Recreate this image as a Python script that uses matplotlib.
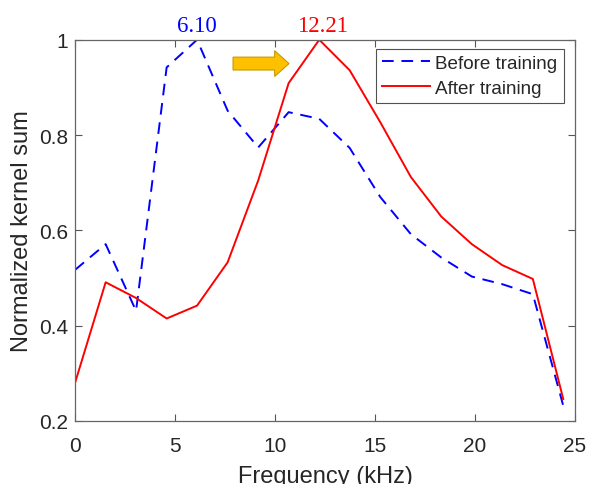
import matplotlib
matplotlib.use("Agg")
import matplotlib.pyplot as plt
from matplotlib.patches import FancyArrow

# frequency bins (kHz) and normalized kernel sums
freq = [0.00, 1.53, 3.05, 4.58, 6.10, 7.63, 9.16, 10.68, 12.21,
        13.73, 15.26, 16.79, 18.31, 19.84, 21.36, 22.89, 24.41]
before = [0.517, 0.571, 0.431, 0.942, 1.000, 0.851, 0.774, 0.848, 0.834,
          0.773, 0.670, 0.592, 0.543, 0.503, 0.487, 0.466, 0.232]
after = [0.280, 0.491, 0.458, 0.415, 0.442, 0.533, 0.705, 0.909, 1.000,
         0.936, 0.827, 0.712, 0.629, 0.571, 0.527, 0.498, 0.246]

x_ticks = [0, 5, 10, 15, 20, 25]
y_ticks = [0.2, 0.4, 0.6, 0.8, 1.0]
y_tick_labels = ["0.2", "0.4", "0.6", "0.8", "1"]

TXT = "#262626"
plt.rcParams["font.family"] = ["Liberation Sans", "DejaVu Sans"]

fig = plt.figure(figsize=(5.91, 4.85), dpi=100)
ax = fig.add_axes([0.127, 0.130, 0.846, 0.786])

ax.plot(freq, before, color="#0000FF", lw=1.4, ls=(0, (6, 4)), label="Before training")
ax.plot(freq, after, color="#FF0000", lw=1.4, label="After training")

ax.set_xlim(0, 25)
ax.set_ylim(0.2, 1.0)
ax.set_xticks(x_ticks)
ax.set_yticks(y_ticks)
ax.set_yticklabels(y_tick_labels)
ax.tick_params(direction="in", length=5, width=0.8, color="#555555",
               labelsize=15, labelcolor=TXT, top=True, right=True)
ax.tick_params(axis="x", pad=11)
ax.tick_params(axis="y", pad=5)
for sp in ax.spines.values():
    sp.set_color("#666666")
    sp.set_linewidth(0.9)

ax.set_xlabel("Frequency (kHz)", fontsize=17, color=TXT, labelpad=7)
ax.set_ylabel("Normalized kernel sum", fontsize=17, color=TXT, labelpad=4)

# peak annotations
i_b = before.index(max(before))
i_a = after.index(max(after))
serif = ["Liberation Serif", "DejaVu Serif"]
ax.text(freq[i_b], 1.019, f"{freq[i_b]:.2f}", color="#0000FF", ha="center",
        va="baseline", fontsize=16.5, family=serif, clip_on=False)
ax.text(freq[i_a] + 0.15, 1.019, f"{freq[i_a]:.2f}", color="#FF0000", ha="center",
        va="baseline", fontsize=16.5, family=serif, clip_on=False)

# shift arrow
ax.add_patch(FancyArrow(7.9, 0.950, 2.8, 0.0, width=0.027, head_width=0.054,
                        head_length=0.72, length_includes_head=True,
                        facecolor="#FFC000", edgecolor="#C49A00", lw=0.8, zorder=3))

leg = ax.legend(loc="upper right", bbox_to_anchor=(0.977, 0.977), fontsize=13.6,
                frameon=True, fancybox=False, handlelength=2.5, handletextpad=0.3,
                labelspacing=0.4, borderpad=0.32, borderaxespad=0.0)
leg.get_frame().set_edgecolor("#262626")
leg.get_frame().set_linewidth(0.8)
for t in leg.get_texts():
    t.set_color(TXT)

fig.savefig("out.png", dpi=100)
